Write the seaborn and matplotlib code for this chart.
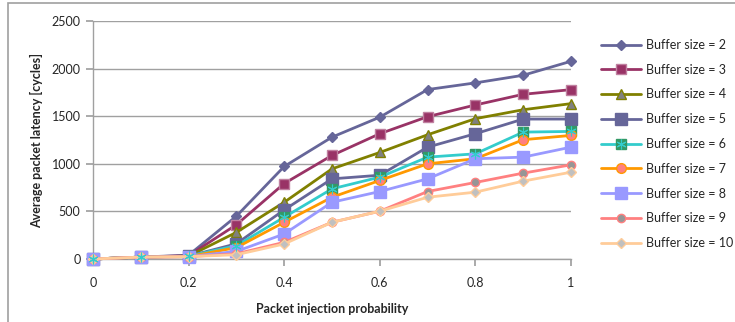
import matplotlib
matplotlib.use("Agg")
import matplotlib.pyplot as plt
from matplotlib.lines import Line2D
from matplotlib.legend_handler import HandlerTuple
from matplotlib.patches import Rectangle
import seaborn as sns
import pandas as pd

sns.set_theme(style="white")
plt.rcParams['font.family'] = ['Lato', 'DejaVu Sans']

x = [0, 0.1, 0.2, 0.3, 0.4, 0.5, 0.6, 0.7, 0.8, 0.9, 1.0]
buf2 = [0, 20, 40, 450, 972, 1280, 1490, 1780, 1850, 1930, 2077]
buf3 = [0, 20, 35, 360, 793, 1088, 1316, 1495, 1618, 1730, 1779]
buf4 = [0, 20, 30, 280, 596, 947, 1119, 1305, 1474, 1568, 1632]
buf5 = [0, 20, 30, 160, 516, 842, 880, 1175, 1316, 1470, 1470]
buf6 = [0, 20, 30, 140, 439, 737, 860, 1070, 1105, 1333, 1340]
buf7 = [0, 20, 25, 120, 386, 649, 825, 1000, 1053, 1253, 1298]
buf8 = [0, 20, 25, 80, 263, 596, 709, 842, 1053, 1070, 1175]
buf9 = [0, 20, 25, 55, 175, 386, 502, 709, 804, 902, 989]
buf10 = [0, 20, 25, 45, 158, 386, 502, 649, 702, 818, 912]
labels = ["Buffer size = %d" % i for i in range(2, 11)]
series = [buf2, buf3, buf4, buf5, buf6, buf7, buf8, buf9, buf10]

styles = [
    dict(color="#666699", marker="D", mfc="#666699", mec="#666699", ms=5.5),
    dict(color="#993366", marker="s", mfc="#993366", mec="#C080A0", ms=7),
    dict(color="#808000", marker="^", mfc="#808080", mec="#808000", ms=7.5),
    dict(color="#666699", marker="s", mfc="#666699", mec="#666699", ms=8),
    dict(color="#33CCCC", marker="s", mfc="#339966", mec="#339966", ms=7.5),
    dict(color="#FF9900", marker="o", mfc="#FF8080", mec="#FF9900", ms=7),
    dict(color="#9999FF", marker="s", mfc="#9999FF", mec="#9999FF", ms=8.5),
    dict(color="#FF8080", marker="o", mfc="#969696", mec="#FF8080", ms=6),
    dict(color="#FFCC99", marker="D", mfc="#C0C0C0", mec="#FFCC99", ms=5.5),
]

fig = plt.figure(figsize=(7.35, 3.22), dpi=100)
ax = fig.add_axes([93/735, 1-259/322, (571-93)/735, (259-21)/322])

handles = []
for lab, ys, st in zip(labels, series, styles):
    df = pd.DataFrame({"x": x, "y": ys})
    sns.lineplot(data=df, x="x", y="y", ax=ax, color=st["color"], lw=2,
                 marker=st["marker"], markerfacecolor=st["mfc"],
                 markeredgecolor=st["mec"], markersize=st["ms"],
                 markeredgewidth=1, clip_on=False, legend=False, zorder=3)
    h = Line2D([], [], color=st["color"], lw=2, marker=st["marker"],
               markerfacecolor=st["mfc"], markeredgecolor=st["mec"],
               markersize=st["ms"], markeredgewidth=1)
    if lab.endswith("= 6"):
        ax.plot(x, ys, ls="none", marker=(6, 2, 0), ms=7, mec="#33CCCC",
                mew=0.8, clip_on=False, zorder=4)
        h2 = Line2D([], [], ls="none", marker=(6, 2, 0), ms=7,
                    mec="#33CCCC", mew=0.8)
        h = (h, h2)
    handles.append(h)

ax.set_xlim(0, 1)
ax.set_ylim(0, 2500)
ax.set_xticks([0, 0.2, 0.4, 0.6, 0.8, 1.0])
ax.set_xticklabels(["0", "0.2", "0.4", "0.6", "0.8", "1"])
ax.set_yticks([0, 500, 1000, 1500, 2000, 2500])
ax.yaxis.grid(True, color="#A0A0A0", lw=1)
ax.xaxis.grid(False)
for s in ["top", "right"]:
    ax.spines[s].set_visible(False)
for s in ["left", "bottom"]:
    ax.spines[s].set_color("#A0A0A0")
    ax.spines[s].set_linewidth(1)
ax.tick_params(axis="x", bottom=True, direction="out", length=5,
               color="#A0A0A0", labelsize=9, pad=8)
ax.tick_params(axis="y", left=True, direction="out", length=5,
               color="#A0A0A0", labelsize=9, pad=4)
ax.set_xlabel("Packet injection probability", fontsize=9, fontweight="bold",
              labelpad=10)
ax.set_ylabel("Average packet latency [cycles]", fontsize=9, fontweight="bold",
              labelpad=6)

leg = ax.legend(handles, labels, loc="upper left",
                bbox_to_anchor=(596/735, 1-34/322), bbox_transform=fig.transFigure,
                frameon=False, fontsize=9, handlelength=3.2, handletextpad=0.4,
                labelspacing=1.02, borderaxespad=0,
                handler_map={tuple: HandlerTuple(ndivide=1)})

fig.patches.append(Rectangle((8/735, -0.5), 1.0, 1.5 - 3/322,
                             transform=fig.transFigure, fill=False,
                             ec="#A0A0A0", lw=1.2))

fig.savefig("out.png", dpi=100)
